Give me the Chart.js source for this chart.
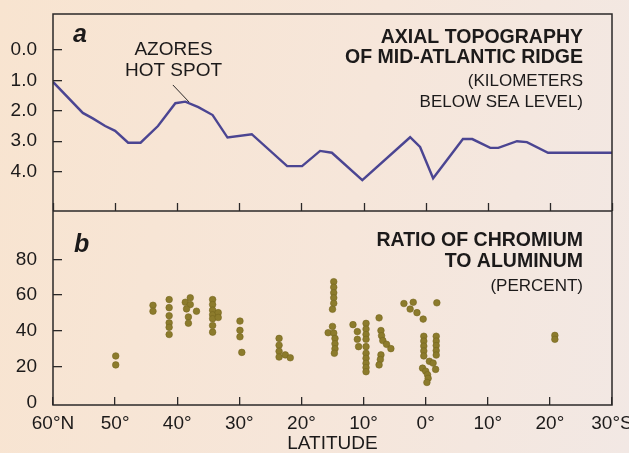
<!DOCTYPE html>
<html>
<head>
<meta charset="utf-8">
<script src="https://cdn.jsdelivr.net/npm/chart.js@4.4.1/dist/chart.umd.min.js"></script>
<style>
  html, body { margin: 0; padding: 0; }
  body {
    width: 629px; height: 453px; overflow: hidden;
    background: linear-gradient(100deg, #f8e4d0 0%, #f6e6da 55%, #f2e8e4 100%);
  }
  #wrap { position: relative; width: 629px; height: 453px; }
</style>
</head>
<body>
<div id="wrap"><canvas id="chart"></canvas></div>
<script>
// latitude: positive = north, negative = south
const latTicks = [60, 50, 40, 30, 20, 10, 0, -10, -20, -30];
const depthTicks = [0, 1, 2, 3, 4];
const ratioTicks = [0, 20, 40, 60, 80];

// panel a: axial depth of the ridge (km below sea level)
const ridgeLat = [60, 55.2, 53.6, 51.6, 50.0, 47.9, 45.9, 43.1, 40.3, 38.7, 36.6, 34.3, 31.9, 28.0,
  22.3, 19.9, 17.0, 15.1, 10.2, 2.5, 0.9, -1.2, -6.0, -7.5, -10.4, -11.7, -14.7, -16.3, -19.7, -30];
const ridgeDepth = [1.05, 2.07, 2.25, 2.5, 2.66, 3.05, 3.05, 2.5, 1.75, 1.7, 1.88, 2.14, 2.88, 2.77,
  3.82, 3.82, 3.32, 3.38, 4.28, 2.87, 3.19, 4.22, 2.93, 2.93, 3.22, 3.22, 3.0, 3.03, 3.38, 3.38];

// panel b: chromium / aluminum ratio (percent)
const crLat = [
  49.9, 49.9,
  43.9, 43.9,
  41.3, 41.3, 41.3, 41.3, 41.3, 41.3,
  37.9, 38.7, 37.9, 38.5, 36.9, 38.2, 38.2,
  34.3, 34.3, 34.3, 34.3, 34.3, 34.3, 34.3, 33.4, 33.4,
  29.9, 29.9, 29.9, 29.6,
  23.6, 23.6, 23.6, 23.6, 22.6, 21.8,
  14.8, 14.8, 14.8, 14.8, 14.8, 15.0,
  15.0, 15.7, 14.8, 14.6, 14.6, 14.6, 14.7,
  11.7, 11.0, 11.0, 10.8,
  9.6, 9.6, 9.6, 9.6, 9.6, 9.6, 9.6, 9.6, 9.6, 9.6,
  7.5, 7.2, 7.1, 6.9, 6.3, 5.6, 7.2, 7.3, 7.5,
  3.5, 2.0, 2.5, 1.4, 0.4, -1.8,
  0.3, 0.3, 0.3, 0.3, 0.3, -0.6, 0.5, 0.0, -0.3, -0.4, -0.2,
  -1.7, -1.7, -1.7, -1.7, -1.7, -1.2, -1.6,
  -20.8, -20.8
];
const crRatio = [
  26, 21,
  54.3, 51,
  57.5, 53, 48.5, 44.5, 42, 38,
  58.5, 56, 54.7, 52.3, 51, 47.8, 44.3,
  57.5, 54.7, 51.6, 49, 46.8, 43, 39.3, 50.2, 47.5,
  45.5, 40.3, 36.7, 28,
  35.8, 32, 28.6, 25.4, 26.6, 25,
  67.5, 64.4, 61.3, 58.5, 55.4, 52.1,
  42.5, 39, 38.8, 35.8, 32.8, 30, 27.5,
  43.5, 39.6, 35.3, 31.2,
  44.2, 41, 38, 35.3, 31.2, 27.5, 24.7, 21.9, 19.5, 17.2,
  47.3, 40.2, 37.3, 34.6, 32.5, 30.1, 26.6, 24, 21,
  55.3, 56, 52.2, 50.2, 46.6, 55.7,
  37, 34.3, 31.5, 28.8, 26, 23, 19.2, 17.5, 15.5, 13.5, 11.2,
  37, 34.3, 31.8, 29, 26.5, 22, 18.5,
  37.5, 35.3
];

const FONT = '"Liberation Sans", Arial, Helvetica, sans-serif';
const INK = '#1c1a1a';
const AXIS = '#2b2828';

function latLabel(v) {
  if (v === 60) return '60°N';
  if (v === -30) return '30°S';
  return Math.abs(v) + '°';
}

const frame = {
  id: 'frame',
  afterDraw(chart) {
    const { ctx, chartArea: a, scales } = chart;
    const x = scales.x, yA = scales.yA;
    ctx.save();
    ctx.strokeStyle = AXIS;
    ctx.lineWidth = 1.5;
    ctx.strokeRect(a.left, a.top, a.right - a.left, a.bottom - a.top);
    const div = yA.bottom;
    ctx.beginPath();
    ctx.moveTo(a.left, div); ctx.lineTo(a.right, div);
    ctx.stroke();
    // ticks of panel a's latitude axis, pointing up from the divider
    ctx.lineWidth = 1.3;
    latTicks.forEach(v => {
      const px = Math.round(x.getPixelForValue(v)) + 0.5;
      ctx.beginPath(); ctx.moveTo(px, div); ctx.lineTo(px, div - 8); ctx.stroke();
    });
    // pointer to the Azores hot spot
    ctx.lineWidth = 1;
    ctx.beginPath();
    ctx.moveTo(x.getPixelForValue(40.7), yA.getPixelForValue(1.15));
    ctx.lineTo(x.getPixelForValue(38.1), yA.getPixelForValue(1.71));
    ctx.stroke();

    ctx.fillStyle = INK;
    ctx.textBaseline = 'alphabetic';
    ctx.textAlign = 'left';
    ctx.font = 'italic bold 25px ' + FONT;
    ctx.fillText('a', 73, 42);
    ctx.fillText('b', 74, 252);

    ctx.textAlign = 'center';
    ctx.font = '19px ' + FONT;
    ctx.fillText('AZORES', 173.5, 55);
    ctx.fillText('HOT SPOT', 173.5, 76);

    ctx.textAlign = 'right';
    ctx.font = 'bold 19.5px ' + FONT;
    ctx.fillText('AXIAL TOPOGRAPHY', 583, 43);
    ctx.fillText('OF MID-ATLANTIC RIDGE', 583, 63);
    ctx.fillText('RATIO OF CHROMIUM', 583, 246);
    ctx.fillText('TO ALUMINUM', 583, 267);
    ctx.font = '17px ' + FONT;
    ctx.fillText('(KILOMETERS', 583, 86);
    ctx.fillText('BELOW SEA LEVEL)', 583, 107);
    ctx.fillText('(PERCENT)', 583, 291);
    ctx.restore();
  }
};

const yAxisCommon = {
  type: 'linear',
  position: 'left',
  stack: 'panels',
  border: { display: false },
  afterFit: s => { s.width = 53; s.paddingTop = 0; s.paddingBottom = 0; }
};

new Chart(document.getElementById('chart'), {
  type: 'scatter',
  data: {
    datasets: [
      {
        label: 'Axial topography',
        data: ridgeLat.map((lat, i) => ({ x: lat, y: ridgeDepth[i] })),
        yAxisID: 'yA',
        showLine: true,
        borderColor: '#4b4592',
        borderWidth: 2.4,
        pointRadius: 0,
        tension: 0,
        fill: false
      },
      {
        label: 'Cr / Al',
        data: crLat.map((lat, i) => ({ x: lat, y: crRatio[i] })),
        yAxisID: 'yB',
        pointRadius: 3.3,
        pointBackgroundColor: '#8c7b2c',
        pointBorderColor: '#76671f',
        pointBorderWidth: 0.6
      }
    ]
  },
  options: {
    responsive: true,
    maintainAspectRatio: false,
    animation: false,
    devicePixelRatio: 1,
    layout: { padding: { left: 0, right: 17, top: 14, bottom: 0 } },
    plugins: { legend: { display: false }, tooltip: { enabled: false } },
    scales: {
      x: {
        type: 'linear',
        position: 'bottom',
        min: -30, max: 60,
        reverse: true,
        afterBuildTicks: s => { s.ticks = latTicks.map(v => ({ value: v })); },
        ticks: {
          callback: v => latLabel(v),
          font: { family: FONT, size: 19 },
          color: INK,
          padding: 15,
          maxRotation: 0,
          autoSkip: false
        },
        grid: { drawOnChartArea: false, tickLength: -8, color: AXIS, lineWidth: 1.3 },
        border: { display: false },
        title: { display: true, text: 'LATITUDE', color: INK, padding: 0,
                 font: { family: FONT, size: 19, lineHeight: 1 } },
        afterFit: s => { s.height = 48; s.paddingLeft = 0; s.paddingRight = 0; }
      },
      yB: Object.assign({}, yAxisCommon, {
        stackWeight: 194,
        min: -1.4, max: 107,
        afterBuildTicks: s => { s.ticks = ratioTicks.map(v => ({ value: v })); },
        ticks: { font: { family: FONT, size: 19 }, color: INK, padding: 25 },
        grid: {
          drawOnChartArea: false, tickLength: -9, lineWidth: 1.3,
          color: c => (c.tick && c.tick.value === 0 ? 'rgba(0,0,0,0)' : AXIS)
        }
      }),
      yA: Object.assign({}, yAxisCommon, {
        stackWeight: 197,
        reverse: true,
        min: -1.184, max: 5.296,
        afterBuildTicks: s => { s.ticks = depthTicks.map(v => ({ value: v })); },
        ticks: { font: { family: FONT, size: 19 }, color: INK, padding: 25,
                 callback: v => v.toFixed(1) },
        grid: { drawOnChartArea: false, tickLength: -9, lineWidth: 1.3, color: AXIS }
      })
    }
  },
  plugins: [frame]
});
</script>
</body>
</html>
